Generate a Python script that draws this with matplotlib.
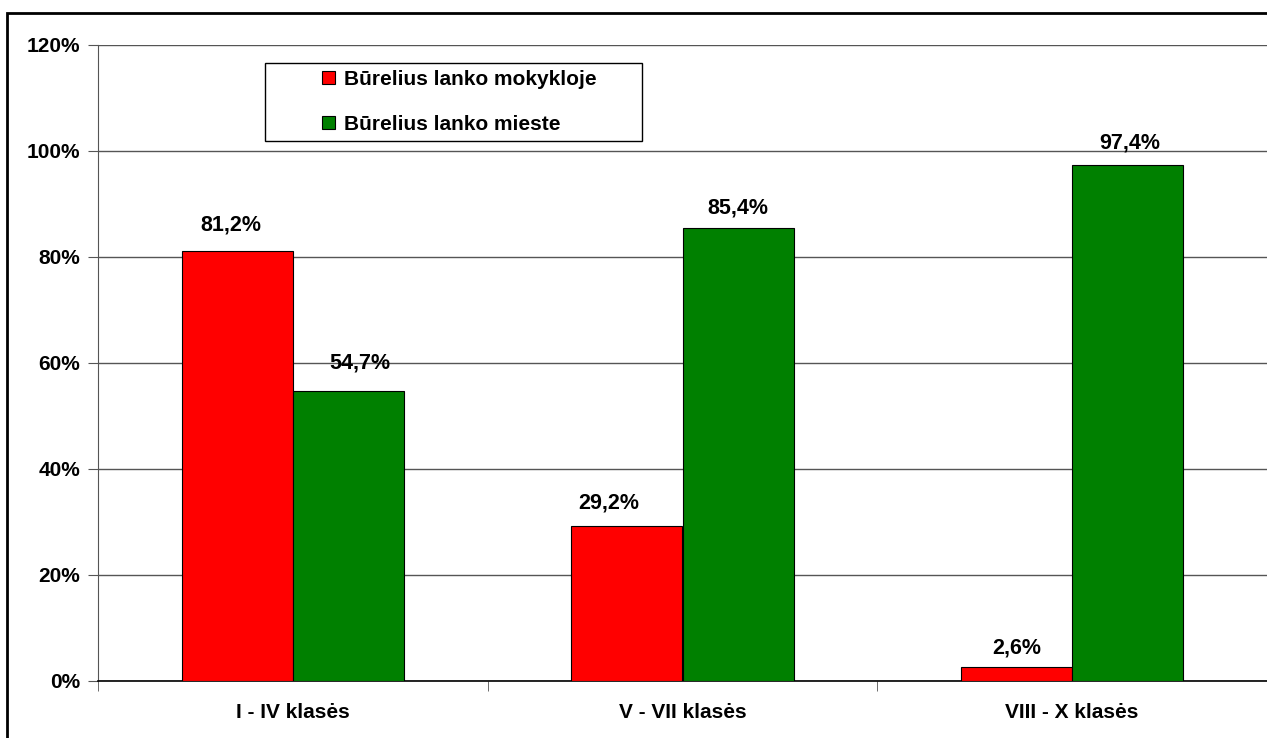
import numpy as np
import matplotlib
matplotlib.use("Agg")
import matplotlib.pyplot as plt
from matplotlib.patches import Rectangle
from matplotlib.ticker import MultipleLocator, FuncFormatter

plt.rcParams['font.family'] = ['Liberation Sans', 'DejaVu Sans']
plt.rcParams['font.weight'] = 'bold'

categories = ["I - IV klasės", "V - VII klasės", "VIII - X klasės"]
series_names = ["Būrelius lanko mokykloje", "Būrelius lanko mieste"]
school = [81.2, 29.2, 2.6]
city = [54.7, 85.4, 97.4]
colors = ["#ff0000", "#008000"]

# data label nudges (px): horizontal shift, baseline height above bar top
label_dx = [[-6, -18, 0], [12, 0, 2]]
label_dy = [[20, 18, 14], [23, 15, 16]]

W, H = 1267, 738
L, R, T, B = 98, 1267, 45, 681

fig = plt.figure(figsize=(W / 100, H / 100), dpi=100)
ax = fig.add_axes([L / W, 1 - B / H, (R - L) / W, (B - T) / H])


def px2ax(px, py):
    return (px - L) / (R - L), 1 - (py - T) / (B - T)


x = np.arange(len(categories))
w = 0.285
for i, (vals, name, col) in enumerate(zip([school, city], series_names, colors)):
    pos = x + (i - 0.5) * w
    ax.bar(pos, vals, width=w, color=col, edgecolor="black", linewidth=0.8,
           label=name, zorder=3)
    for j, (px, v) in enumerate(zip(pos, vals)):
        ax.annotate(f"{v:.1f}%".replace(".", ","), (px, v),
                    xytext=(label_dx[i][j] * 0.72, label_dy[i][j] * 0.72),
                    textcoords="offset points", ha="center", va="baseline",
                    fontsize=15.5, fontweight="bold")

ax.set_xlim(-0.5, len(categories) - 0.5)
ax.set_ylim(0, 120)
ax.yaxis.set_major_locator(MultipleLocator(20))
ax.yaxis.set_major_formatter(FuncFormatter(lambda v, p: f"{v:.0f}%"))
ax.yaxis.grid(True, color="#555555", linewidth=1, zorder=0)
ax.set_xticks(x)
ax.set_xticklabels(categories)
ax.set_xticks(np.arange(len(categories) + 1) - 0.5, minor=True)
ax.tick_params(axis="x", which="major", length=0, pad=16, labelsize=15)
ax.tick_params(axis="x", which="minor", length=7, color="#555555")
ax.tick_params(axis="y", length=7, color="#555555", labelsize=15, pad=6)

for s in ["top", "right"]:
    ax.spines[s].set_visible(False)
ax.spines["left"].set_color("#555555")
ax.spines["bottom"].set_color("black")
ax.spines["bottom"].set_linewidth(1.2)

# legend frame drawn by hand (Excel-style wide padding)
x0, y1 = px2ax(265, 63)
x1, y0 = px2ax(642, 141)
ax.add_patch(Rectangle((x0, y0), x1 - x0, y1 - y0, transform=ax.transAxes,
                       facecolor="white", edgecolor="black", linewidth=1,
                       zorder=4, clip_on=False))
leg = ax.legend(loc="upper left", bbox_to_anchor=px2ax(322, 70),
                fontsize=15, frameon=False,
                handlelength=0.62, handleheight=0.62, borderpad=0,
                labelspacing=1.25, borderaxespad=0, handletextpad=0.45)
leg.set_zorder(5)

fig.patches.append(Rectangle((7 / W, -0.05), 1.1, 1 - 13 / H + 0.05,
                             transform=fig.transFigure, fill=False,
                             edgecolor="black", linewidth=2))

fig.savefig("out.png", dpi=100)
